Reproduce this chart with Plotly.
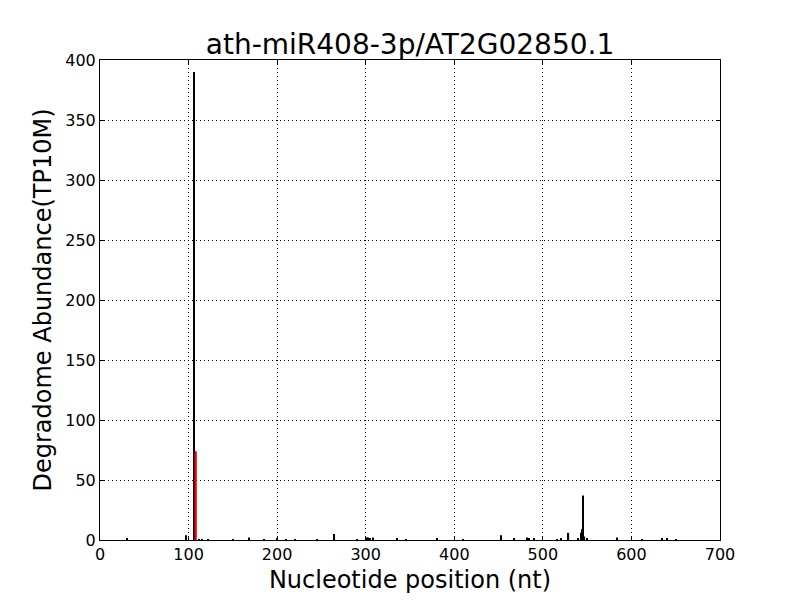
import plotly.graph_objects as go

title = "ath-miR408-3p/AT2G02850.1"
x_label = "Nucleotide position (nt)"
y_label = "Degradome Abundance(TP10M)"

# black degradome bars: position (nt) and abundance
black_pos = [30, 97, 106, 112, 115, 122, 150, 168, 185, 200, 210, 220, 245, 264, 290,
             301, 303, 305, 308, 335, 345, 380, 410, 453, 468, 482, 484, 490, 516,
             520, 529, 540, 543, 544, 545, 546, 550, 584, 612, 635, 640, 650]
black_val = [1, 4, 390, 0.5, 0.5, 0.5, 0.5, 2, 0.5, 1, 0.5, 0.5, 0.5, 5, 0.5,
             2, 2, 1.5, 2, 1, 0.5, 1, 0.5, 4, 1, 2, 1, 1, 0.5,
             1, 6, 1, 6, 9, 37, 3, 1, 2, 0.5, 1, 1, 0.5]

# red bar: predicted cleavage site
red_pos = [108]
red_val = [74]

x_ticks = [0, 100, 200, 300, 400, 500, 600, 700]
y_ticks = [0, 50, 100, 150, 200, 250, 300, 350, 400]

fig = go.Figure()
fig.add_trace(go.Bar(x=black_pos, y=black_val, width=1.3,
                     marker=dict(color="black", line=dict(width=0))))
fig.add_trace(go.Bar(x=red_pos, y=red_val, width=2.6,
                     marker=dict(color="red", line=dict(width=0))))

axis_common = dict(
    showline=True, linecolor="black", linewidth=1, mirror="ticks",
    ticks="inside", ticklen=4, tickcolor="black", tickwidth=1,
    showgrid=True, gridcolor="black", griddash="1px,3px", gridwidth=1,
    zeroline=False, tickfont=dict(size=16, color="black"),
    automargin=False,
)

# page body has an 8px default margin, so the figure is sized to fit 800x600
fig.update_layout(
    width=792, height=592,
    margin=dict(l=92, r=80, t=52, b=60),
    plot_bgcolor="white", paper_bgcolor="white",
    font=dict(family="DejaVu Sans", color="black"),
    showlegend=False, barmode="overlay",
    title=dict(text=title, x=0.5076, xanchor="center", y=0.939, yanchor="middle",
               font=dict(size=28, color="black")),
    xaxis=dict(range=[0, 700], tickvals=x_ticks,
               title=dict(text=x_label, font=dict(size=24), standoff=7),
               **axis_common),
    yaxis=dict(range=[0, 400], tickvals=y_ticks,
               title=dict(text=y_label, font=dict(size=24), standoff=6),
               **axis_common),
)

fig.write_html("out.html")
